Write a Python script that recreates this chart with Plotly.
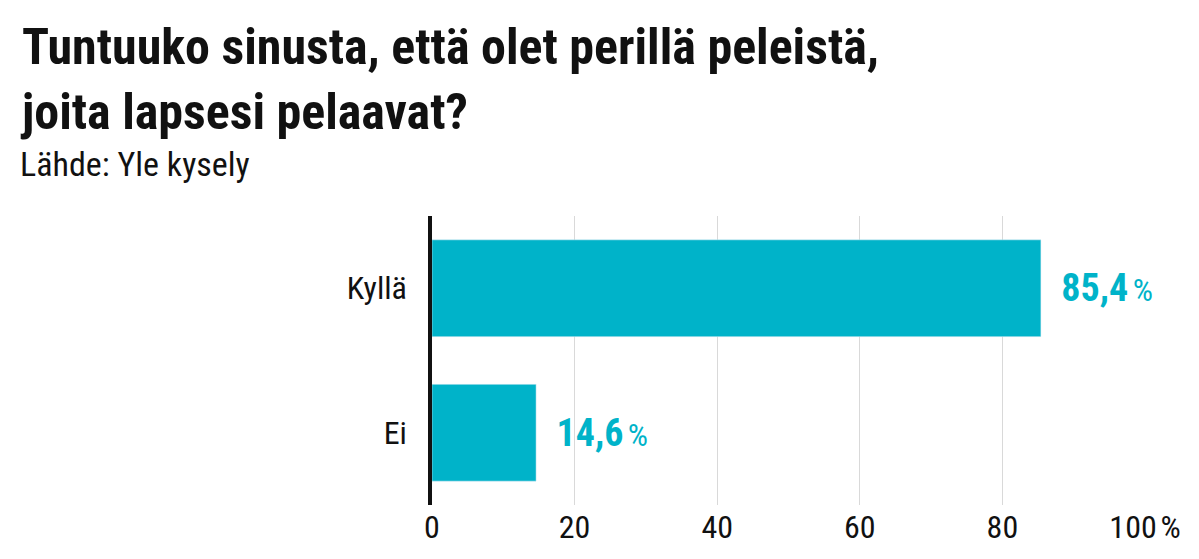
import plotly.graph_objects as go

vastaukset = ["Kyllä", "Ei"]
osuudet = [85.4, 14.6]
tick_arvot = [0, 20, 40, 60, 80, 100]
tick_tekstit = ["0", "20", "40", "60", "80", "100\u202f%"]

vari = "#00b3c9"
fontti = "Roboto Condensed, Liberation Sans Narrow, Roboto, sans-serif"

fig = go.Figure(go.Bar(
    x=osuudet,
    y=vastaukset,
    orientation="h",
    marker=dict(color=vari),
    text=[f"  <b>{str(v).replace('.', ',')}</b>\u202f<span style='font-size:32px'>%</span>" for v in osuudet],
    textposition="outside",
    textfont=dict(size=38, color=vari, family=fontti),
    cliponaxis=False,
))

fig.update_layout(
    width=1199, height=559,
    margin=dict(l=424, r=62, t=208, b=62),
    plot_bgcolor="white", paper_bgcolor="white",
    bargap=0.33,
    showlegend=False,
    font=dict(family=fontti, color="#111"),
    xaxis=dict(
        range=[0, 100], tickvals=tick_arvot, ticktext=tick_tekstit,
        showgrid=True, gridcolor="#d9d9d9", gridwidth=1,
        zeroline=False, tickfont=dict(size=32, color="#111"),
        ticks="", ticklen=0, automargin=False,
    ),
    yaxis=dict(
        autorange="reversed", showline=True, linecolor="#111", linewidth=4,
        tickfont=dict(size=32, color="#111"), ticks="", ticklen=0,
        ticksuffix="  ", automargin=False,
    ),
    annotations=[
        dict(text="<b>Tuntuuko sinusta, että olet perillä peleistä,<br>joita lapsesi pelaavat?</b>",
             xref="paper", yref="paper", x=-414/713, y=1 + 200/289, xanchor="left", yanchor="top",
             align="left", showarrow=False, font=dict(size=50, color="#111", family=fontti)),
        dict(text="Lähde: Yle kysely",
             xref="paper", yref="paper", x=-414/713, y=1 + 52/289, xanchor="left", yanchor="middle",
             align="left", showarrow=False, font=dict(size=34, color="#111", family=fontti)),
    ],
)

fig.write_html("out.html")
